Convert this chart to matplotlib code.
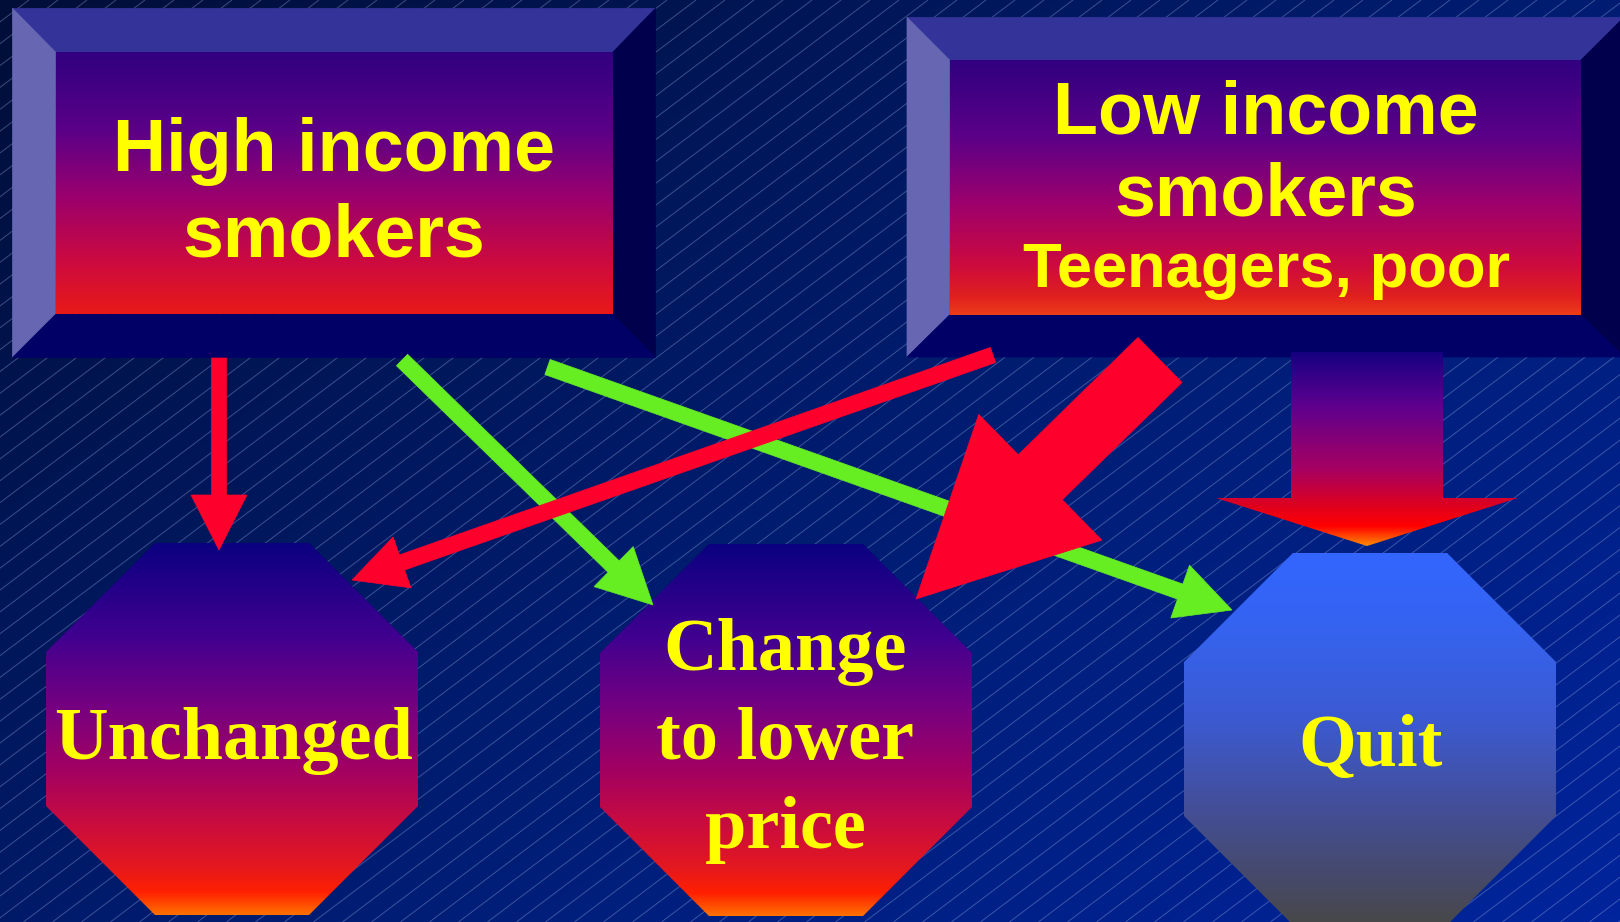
import numpy as np
import matplotlib
matplotlib.use('Agg')
import matplotlib.pyplot as plt
from matplotlib.patches import Polygon
from matplotlib.colors import LinearSegmentedColormap
from matplotlib.collections import LineCollection

# ---------------- content ----------------
source_titles = ["High income\nsmokers", "Low income\nsmokers"]
source_subtitles = ["", "Teenagers, poor"]
outcome_labels = ["Unchanged", "Change\nto lower\nprice", "Quit"]
# links: (source index, outcome index, style)
link_sources = [0, 0, 0, 1, 1, 1]
link_targets = [0, 1, 2, 0, 1, 2]
link_styles = ["red", "green", "green", "red", "red_big", "grad_big"]

# ---------------- layout ----------------
W, H = 1620, 922
box_outer = [(12.5, 8.3, 655.5, 357.5), (907, 17.3, 1624, 357)]
box_inner = [(55.5, 52, 613, 314.5), (949.6, 60, 1581, 315)]
oct_boxes = [(46, 543, 418, 915), (600, 544, 972, 916), (1184, 553, 1556, 925)]
# arrow geometry: start, tip, shaft half-width, head length, head half-width
arrow_geom = [
    ((219, 358), (219, 550), 7.5, 55, 28),
    ((402, 360), (653, 605), 8, 55, 28),
    ((547.5, 367), (1232, 610), 8, 55, 28),
    ((993, 355), (352, 580), 8, 53, 27),
    ((1160, 360), (916, 599), 31.5, 174, 88),
    ((1367, 352), (1367, 546), 76, 48, 151),
]

RED = '#fd002c'
GREEN = '#66ee22'
YELLOW = '#ffff00'

box_grad = [(0, '#300080'), (0.3, '#5a0088'), (0.55, '#9a006e'),
            (0.8, '#cc0a40'), (1.0, '#e81a18')]
box_grad2 = [(0, '#300080'), (0.3, '#5a0088'), (0.55, '#9a006e'),
             (0.8, '#cc0a40'), (0.93, '#e0201e'), (1.0, '#ec3c18')]
warm_grad = [(0, '#0a0080'), (0.25, '#400090'), (0.45, '#78007f'),
             (0.6, '#a00064'), (0.75, '#c80c40'), (0.87, '#e41820'),
             (0.94, '#ff2000'), (1.0, '#ff7000')]
quit_grad = [(0, '#3366ff'), (0.2, '#3563f0'), (0.45, '#3c5ad0'),
             (0.65, '#4250a0'), (0.85, '#464a70'), (1.0, '#484848')]
down_grad = [(0, '#160080'), (0.27, '#5c008f'), (0.61, '#a80060'),
             (0.80, '#e0001c'), (0.9, '#ff0000'), (1.0, '#ff8c00')]

fig = plt.figure(figsize=(16.2, 9.22), dpi=100)
ax = fig.add_axes([0, 0, 1, 1])
ax.axis('off')

# background gradient
xx, yy = np.meshgrid(np.linspace(0, 1, 400), np.linspace(0, 1, 230))
t = 0.55 * xx + 0.45 * yy
bg_cmap = LinearSegmentedColormap.from_list('bg', ['#000e38', '#001c6e', '#00249c'])
ax.imshow(t, cmap=bg_cmap, extent=(0, W, H, 0), origin='upper', aspect='auto',
          vmin=0, vmax=1, zorder=0, interpolation='bilinear')

# diagonal hatch lines
ang = np.deg2rad(37)
dx = H / np.tan(ang)
segs = [[(x0, 0), (x0 - dx, H)] for x0 in np.arange(0, W + dx + 29, 29)]
ax.add_collection(LineCollection(segs, colors='#8fa0d8', linewidths=0.7,
                                 alpha=0.42, zorder=1))


def grad_fill(verts, stops, z):
    poly = Polygon(verts, closed=True, facecolor='none', edgecolor='none', zorder=z)
    ax.add_patch(poly)
    xs = [v[0] for v in verts]
    ys = [v[1] for v in verts]
    grad = np.linspace(0, 1, 512).reshape(-1, 1)
    cm = LinearSegmentedColormap.from_list('g', stops)
    im = ax.imshow(grad, cmap=cm, extent=(min(xs), max(xs), max(ys), min(ys)),
                   origin='upper', aspect='auto', zorder=z, interpolation='bilinear')
    im.set_clip_path(poly)


def bevel_box(outer, inner, stops):
    ox0, oy0, ox1, oy1 = outer
    ix0, iy0, ix1, iy1 = inner
    faces = [
        ([(ox0, oy0), (ox1, oy0), (ix1, iy0), (ix0, iy0)], '#333399'),
        ([(ox0, oy0), (ix0, iy0), (ix0, iy1), (ox0, oy1)], '#6666b3'),
        ([(ox1, oy0), (ox1, oy1), (ix1, iy1), (ix1, iy0)], '#00004d'),
        ([(ox0, oy1), (ix0, iy1), (ix1, iy1), (ox1, oy1)], '#000066'),
    ]
    for v, c in faces:
        ax.add_patch(Polygon(v, closed=True, facecolor=c, edgecolor=c,
                             linewidth=0.5, zorder=2))
    grad_fill([(ix0, iy0), (ix1, iy0), (ix1, iy1), (ix0, iy1)], stops, 2.1)


def octagon(b):
    x0, y0, x1, y1 = b
    cx = (x1 - x0) / (2 + np.sqrt(2))
    cy = (y1 - y0) / (2 + np.sqrt(2))
    return [(x0 + cx, y0), (x1 - cx, y0), (x1, y0 + cy), (x1, y1 - cy),
            (x1 - cx, y1), (x0 + cx, y1), (x0, y1 - cy), (x0, y0 + cy)]


def arrow_poly(start, tip, w, L, hw):
    s = np.array(start, float)
    tp = np.array(tip, float)
    d = tp - s
    u = d / np.linalg.norm(d)
    p = np.array([-u[1], u[0]])
    b = tp - u * L
    pts = [s + p * w, b + p * w, b + p * hw, tp, b - p * hw, b - p * w, s - p * w]
    return [tuple(q) for q in pts]


# boxes
bevel_box(box_outer[0], box_inner[0], box_grad)
bevel_box(box_outer[1], box_inner[1], box_grad2)

# octagons
grad_fill(octagon(oct_boxes[0]), warm_grad, 3)
grad_fill(octagon(oct_boxes[1]), warm_grad, 3)
grad_fill(octagon(oct_boxes[2]), quit_grad, 3)

# arrows (green first, red on top)
order = [i for i, s in enumerate(link_styles) if s == 'green'] + \
        [i for i, s in enumerate(link_styles) if s != 'green']
for i in order:
    style = link_styles[i]
    pts = arrow_poly(*arrow_geom[i])
    if style == 'grad_big':
        grad_fill(pts, down_grad, 4.5)
    else:
        col = GREEN if style == 'green' else RED
        ax.add_patch(Polygon(pts, closed=True, facecolor=col, edgecolor=col,
                             linewidth=0.5, zorder=4 if style == 'green' else 4.6))

# texts
sans = dict(family='Liberation Sans', weight='bold', color=YELLOW, ha='center',
            va='baseline', zorder=6)
serif = dict(family='Liberation Serif', weight='bold', color=YELLOW, ha='center',
             va='baseline', zorder=6)

l0 = source_titles[0].split('\n')
ax.text(334, 170.5, l0[0], fontsize=53, **sans)
ax.text(334, 256, l0[1], fontsize=53, **sans)
l1 = source_titles[1].split('\n')
ax.text(1266, 134, l1[0], fontsize=53, **sans)
ax.text(1266, 215, l1[1], fontsize=53, **sans)
ax.text(1267, 287, source_subtitles[1], fontsize=45.5, **sans)

ax.text(234, 759, outcome_labels[0], fontsize=53.5, **serif)
c_lines = outcome_labels[1].split('\n')
for yb, s in zip([670, 759, 848], c_lines):
    ax.text(785, yb, s, fontsize=53.5, **serif)
ax.text(1371, 766, outcome_labels[2], fontsize=53.5, **serif)

ax.set_xlim(0, W)
ax.set_ylim(H, 0)
fig.savefig('out.png', dpi=100)
